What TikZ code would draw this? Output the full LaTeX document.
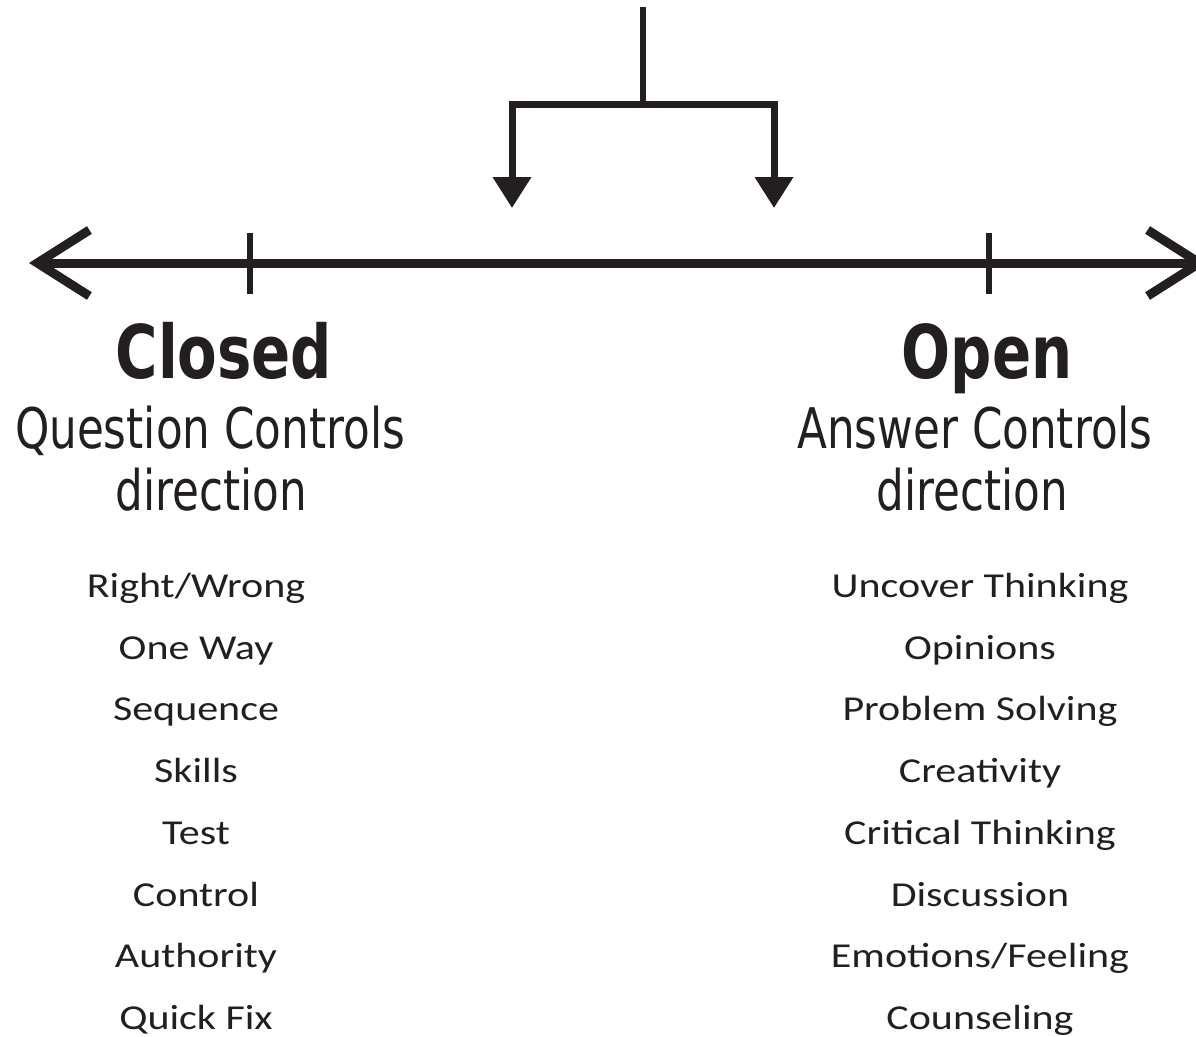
\documentclass[tikz,border=0pt]{standalone}
\usepackage{fontspec}
\usetikzlibrary{arrows.meta}
\newfontfamily\headfont[FakeStretch=0.78]{DejaVu Sans}
\newfontfamily\listfont[FakeStretch=1.2]{Carlito}
\definecolor{ink}{HTML}{231F20}
\tikzset{
	titulo/.style={anchor=base, inner sep=0pt, text=ink, font=\headfont\bfseries\fontsize{74}{80}\selectfont},
	subtitulo/.style={anchor=base, inner sep=0pt, text=ink, font=\headfont\fontsize{56}{60}\selectfont},
	item/.style={anchor=base, inner sep=0pt, text=ink, font=\listfont\fontsize{35}{40}\selectfont}
}
\begin{document}
\begin{tikzpicture}[x=1pt, y=-1pt]
	\useasboundingbox (0,0) rectangle (1196,1036);
	% Horquilla superior
	\coordinate (tallo) at (643,7);
	\coordinate (nudo) at (643,104);
	\coordinate (puntaI) at (512,208);
	\coordinate (puntaD) at (774,208);
	\draw[ink, line width=6pt] (tallo) -- (nudo);
	\draw[ink, line width=7pt, miter limit=10, -{Triangle[length=31pt,width=37pt]}] (nudo) -| (puntaI);
	\draw[ink, line width=7pt, miter limit=10, -{Triangle[length=31pt,width=37pt]}] (nudo) -| (puntaD);
	
	% Eje principal
	\coordinate (extI) at (29,263);
	\coordinate (extD) at (1208,263);
	\draw[ink, line width=9pt, {Straight Barb[length=52pt,width=66pt]}-{Straight Barb[length=52pt,width=66pt]}] (extI) -- (extD);
	\draw[ink, line width=6pt] (250,233) coordinate (marcaI) -- (250,294);
	\draw[ink, line width=6pt] (989,233) coordinate (marcaD) -- (989,294);
	
	% Lado cerrado
	\node[titulo] (cerrada) at (224,378) {Closed};
	\node[subtitulo] (cerradaA) at (210,448) {Question Controls};
	\node[subtitulo] (cerradaB) at (211,510) {direction};
	\node[item] (c1) at (196,597) {Right/Wrong};
	\node[item] (c2) at (196,659) {One Way};
	\node[item] (c3) at (196,720) {Sequence};
	\node[item] (c4) at (196,782) {Skills};
	\node[item] (c5) at (196,844) {Test};
	\node[item] (c6) at (196,906) {Control};
	\node[item] (c7) at (196,967) {Authority};
	\node[item] (c8) at (196,1029) {Quick Fix};
	
	% Lado abierto
	\node[titulo] (abierta) at (987,378) {Open};
	\node[subtitulo] (abiertaA) at (975,448) {Answer Controls};
	\node[subtitulo] (abiertaB) at (972,510) {direction};
	\node[item] (a1) at (980,597) {Uncover Thinking};
	\node[item] (a2) at (980,659) {Opinions};
	\node[item] (a3) at (980,720) {Problem Solving};
	\node[item] (a4) at (980,782) {Creativity};
	\node[item] (a5) at (980,844) {Critical Thinking};
	\node[item] (a6) at (980,906) {Discussion};
	\node[item] (a7) at (980,967) {Emotions/Feeling};
	\node[item] (a8) at (980,1029) {Counseling};
\end{tikzpicture}
\end{document}
